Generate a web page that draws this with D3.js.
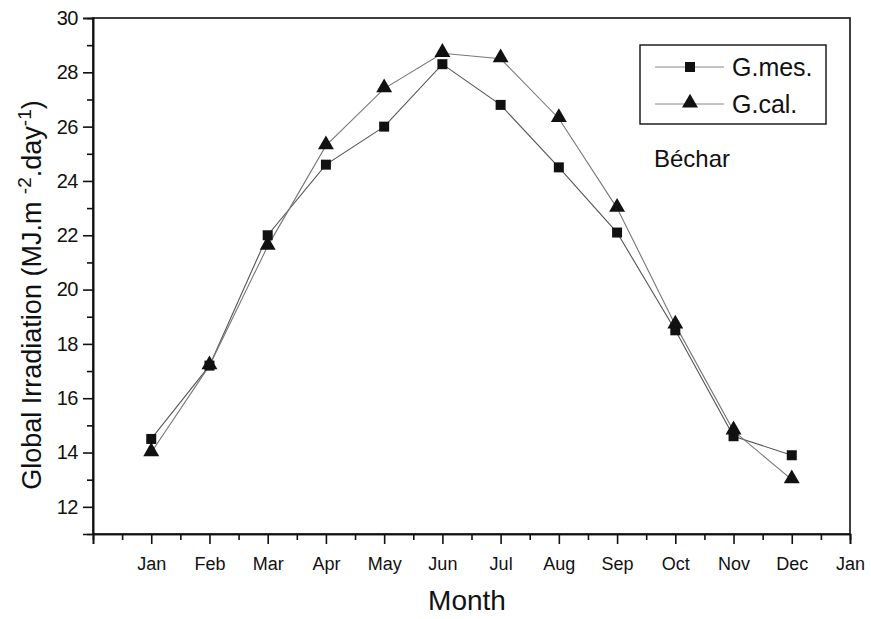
<!DOCTYPE html>
<html>
<head>
<meta charset="utf-8">
<script src="https://cdn.jsdelivr.net/npm/d3@7"></script>
<style>
  body { margin: 0; background: #fff; }
  text { font-family: "Liberation Sans", Arial, sans-serif; fill: #111; }
</style>
</head>
<body>
<div id="chart"></div>
<script>
var months = ["Jan", "Feb", "Mar", "Apr", "May", "Jun", "Jul", "Aug", "Sep", "Oct", "Nov", "Dec"];
var tickMonths = ["Jan", "Feb", "Mar", "Apr", "May", "Jun", "Jul", "Aug", "Sep", "Oct", "Nov", "Dec", "Jan"];
var gMes = [14.5, 17.2, 22.0, 24.6, 26.0, 28.3, 26.8, 24.5, 22.1, 18.5, 14.6, 13.9];
var gCal = [14.0, 17.2, 21.6, 25.3, 27.4, 28.7, 28.5, 26.3, 23.0, 18.7, 14.8, 13.0];
var yTicks = [12, 14, 16, 18, 20, 22, 24, 26, 28, 30];

var width = 871, height = 619;
var margin = {top: 18, right: 21, bottom: 85, left: 93};

var svg = d3.select("#chart").append("svg").attr("width", width).attr("height", height);

var x = d3.scaleLinear().domain([0, 13]).range([margin.left, width - margin.right]);
var y = d3.scaleLinear().domain([11, 30]).range([height - margin.bottom, margin.top]);

// frame
svg.append("rect")
    .attr("x", x(0)).attr("y", y(30))
    .attr("width", x(13) - x(0)).attr("height", y(11) - y(30))
    .attr("fill", "none").attr("stroke", "#111").attr("stroke-width", 1.6);

// x axis
var xAxis = svg.append("g").attr("transform", "translate(0," + y(11) + ")");
xAxis.call(d3.axisBottom(x).tickValues(d3.range(0, 14)).tickSize(10).tickFormat(function(d) { return d === 0 ? "" : tickMonths[d - 1]; }));
xAxis.append("g").call(d3.axisBottom(x).tickValues(d3.range(0.5, 13, 1)).tickSize(6).tickFormat(""));
xAxis.selectAll("text").attr("dy", "1.3em").style("font-size", "18px");

// y axis
var yAxis = svg.append("g").attr("transform", "translate(" + x(0) + ",0)");
yAxis.call(d3.axisLeft(y).tickValues(yTicks).tickSize(10).tickFormat(d3.format("d")));
yAxis.append("g").call(d3.axisLeft(y).tickValues(d3.range(13, 30, 2)).tickSize(6).tickFormat(""));
yAxis.selectAll("text").attr("dx", "-0.1em").style("font-size", "20px").style("letter-spacing", "-0.5px");

svg.selectAll(".domain").attr("stroke", "#111").attr("stroke-width", 1.6);
svg.selectAll(".tick line").attr("stroke", "#111").attr("stroke-width", 1.6);

// titles
svg.append("text")
    .attr("x", 467).attr("y", 610)
    .attr("text-anchor", "middle").style("font-size", "28px")
    .text("Month");

var yt = svg.append("text")
    .attr("transform", "translate(41,295) rotate(-90)")
    .attr("text-anchor", "middle").style("font-size", "27px");
yt.append("tspan").text("Global Irradiation (MJ.m ");
yt.append("tspan").attr("dy", -10).style("font-size", "19px").text("-2");
yt.append("tspan").attr("dy", 10).text(".day");
yt.append("tspan").attr("dy", -10).style("font-size", "19px").text("-1");
yt.append("tspan").attr("dy", 10).text(")");

// lines
var line = d3.line()
    .x(function(d, i) { return x(i + 1); })
    .y(function(d) { return y(d); });

svg.append("path").datum(gMes).attr("d", line)
    .attr("fill", "none").attr("stroke", "#555").attr("stroke-width", 1.1);
svg.append("path").datum(gCal).attr("d", line)
    .attr("fill", "none").attr("stroke", "#777").attr("stroke-width", 1.1);

var sq = d3.symbol().type(d3.symbolSquare).size(100);
var tri = d3.symbol().type(d3.symbolTriangle).size(110);

svg.selectAll(".mes").data(gMes).enter().append("path")
    .attr("class", "mes")
    .attr("d", sq)
    .attr("transform", function(d, i) { return "translate(" + x(i + 1) + "," + y(d) + ")"; })
    .attr("fill", "#111");

svg.selectAll(".cal").data(gCal).enter().append("path")
    .attr("class", "cal")
    .attr("d", tri)
    .attr("transform", function(d, i) { return "translate(" + x(i + 1) + "," + (y(d) - 1) + ")"; })
    .attr("fill", "#111");

// legend
var lg = svg.append("g").attr("transform", "translate(640,45)");
lg.append("rect").attr("width", 186).attr("height", 79)
    .attr("fill", "#fff").attr("stroke", "#111").attr("stroke-width", 1.4);
var items = [{name: "G.mes.", sym: sq, yy: 22}, {name: "G.cal.", sym: tri, yy: 59}];
items.forEach(function(it) {
  lg.append("line").attr("x1", 15).attr("x2", 84).attr("y1", it.yy).attr("y2", it.yy)
      .attr("stroke", "#888").attr("stroke-width", 1);
  lg.append("path").attr("d", it.sym).attr("transform", "translate(50," + (it.yy - (it.sym === tri ? 1 : 0)) + ")").attr("fill", "#111");
  lg.append("text").attr("x", 92).attr("y", it.yy + 9).style("font-size", "25px").text(it.name);
});

svg.append("text").attr("x", 654).attr("y", 167).style("font-size", "24px").text("Béchar");
</script>
</body>
</html>
